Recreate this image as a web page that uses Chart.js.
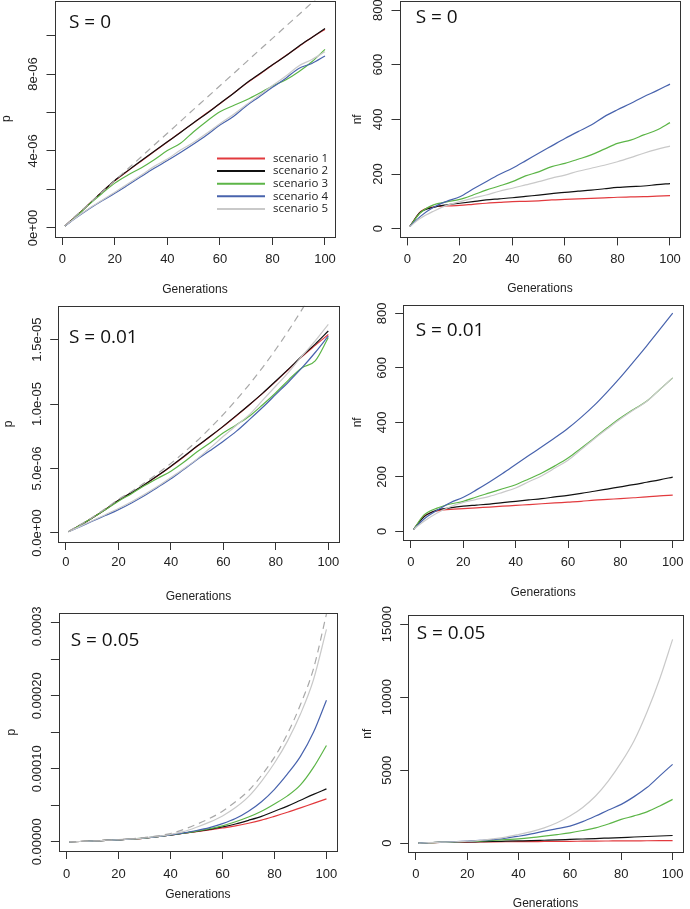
<!DOCTYPE html>
<html>
<head>
<meta charset="utf-8">
<title>Generations</title>
<script src="https://cdn.jsdelivr.net/npm/chart.js@4.4.1/dist/chart.umd.min.js"></script>
<style>
  body { margin: 0; background: #fff; }
  #wrap { position: relative; width: 690px; height: 909px; overflow: hidden; }
  #wrap canvas { position: absolute; }
</style>
</head>
<body>
<div id="wrap">
  <canvas id="c1" width="345" height="303" style="left:0px;top:0px"></canvas>
  <canvas id="c2" width="345" height="303" style="left:345px;top:0px"></canvas>
  <canvas id="c3" width="345" height="303" style="left:0px;top:303px"></canvas>
  <canvas id="c4" width="345" height="303" style="left:345px;top:303px"></canvas>
  <canvas id="c5" width="345" height="303" style="left:0px;top:606px"></canvas>
  <canvas id="c6" width="345" height="303" style="left:345px;top:606px"></canvas>
</div>
<script>
const gen = [1, 5, 10, 15, 20, 25, 30, 35, 40, 45, 50, 55, 60, 65, 70, 75, 80, 85, 90, 95, 100];
const xTicks = [0, 20, 40, 60, 80, 100];
const scenarioNames = ['scenario 1', 'scenario 2', 'scenario 3', 'scenario 4', 'scenario 5'];

// S = 0, p (in units of 1e-6)
const p0_s1 = [0.10, 0.58, 1.22, 1.85, 2.45, 2.97, 3.47, 3.97, 4.47, 4.97, 5.46, 5.97, 6.46, 6.98, 7.50, 7.98, 8.47, 8.95, 9.42, 9.90, 10.32];
const p0_s2 = [0.10, 0.57, 1.21, 1.86, 2.47, 2.98, 3.49, 3.99, 4.48, 4.96, 5.47, 5.95, 6.47, 6.97, 7.52, 8.00, 8.48, 8.93, 9.44, 9.90, 10.36];
const p0_s3 = [0.10, 0.56, 1.20, 1.78, 2.33, 2.75, 3.12, 3.55, 4.02, 4.40, 5.00, 5.55, 6.04, 6.35, 6.65, 7.00, 7.38, 7.69, 8.12, 8.64, 9.28];
const p0_s4 = [0.10, 0.50, 0.97, 1.40, 1.80, 2.23, 2.67, 3.10, 3.50, 3.92, 4.36, 4.83, 5.35, 5.78, 6.34, 6.82, 7.31, 7.77, 8.29, 8.55, 8.94];
const p0_s5 = [0.10, 0.52, 1.00, 1.43, 1.85, 2.30, 2.74, 3.20, 3.58, 4.05, 4.45, 4.92, 5.42, 5.88, 6.40, 6.90, 7.40, 7.88, 8.42, 8.75, 9.16];
const p0_exp = [0.12, 0.62, 1.23, 1.85, 2.46, 3.08, 3.69, 4.31, 4.92, 5.54, 6.16, 6.77, 7.39, 8.00, 8.62, 9.24, 9.85, 10.47, 11.08, 11.70, 12.32];

// S = 0, nf
const n0_s1 = [8, 62, 80, 83, 85, 89, 93, 96, 99, 100, 102, 105, 107, 109, 111, 113, 115, 116, 117, 119, 121];
const n0_s2 = [8, 60, 78, 87, 93, 99, 105, 109, 113, 118, 123, 128, 133, 137, 141, 146, 151, 154, 156, 161, 165];
const n0_s3 = [8, 58, 87, 98, 107, 123, 141, 156, 172, 193, 208, 227, 239, 254, 270, 291, 312, 324, 343, 361, 388];
const n0_s4 = [8, 45, 78, 100, 117, 145, 172, 198, 221, 248, 276, 303, 330, 355, 379, 410, 435, 458, 483, 505, 529];
const n0_s5 = [8, 38, 64, 85, 99, 112, 123, 137, 148, 160, 172, 185, 196, 210, 221, 232, 245, 260, 276, 290, 302];

// S = 0.01, p (1e-6)
const p1_s1 = [0.10, 0.55, 1.17, 1.82, 2.52, 3.12, 3.75, 4.44, 5.16, 5.92, 6.72, 7.48, 8.27, 9.10, 9.95, 10.83, 11.76, 12.72, 13.68, 14.55, 15.40];
const p1_s2 = [0.10, 0.55, 1.17, 1.83, 2.54, 3.13, 3.76, 4.45, 5.18, 5.95, 6.74, 7.50, 8.29, 9.12, 9.97, 10.85, 11.79, 12.75, 13.73, 14.65, 15.67];
const p1_s3 = [0.10, 0.55, 1.17, 1.80, 2.46, 3.05, 3.68, 4.25, 4.79, 5.50, 6.30, 7.00, 7.77, 8.40, 9.07, 9.95, 10.88, 11.90, 12.82, 13.35, 15.16];
const p1_s4 = [0.10, 0.45, 0.91, 1.35, 1.81, 2.33, 2.90, 3.55, 4.20, 4.95, 5.70, 6.40, 7.12, 7.90, 8.81, 9.75, 10.75, 11.75, 12.82, 14.00, 15.28];
const p1_s5 = [0.10, 0.47, 0.95, 1.42, 1.90, 2.42, 3.00, 3.62, 4.30, 5.00, 5.75, 6.60, 7.50, 8.35, 9.20, 10.30, 11.40, 12.50, 13.73, 14.90, 16.19];
const p1_exp = [0.12, 0.60, 1.20, 1.88, 2.60, 3.22, 3.89, 4.62, 5.40, 6.25, 7.15, 8.15, 9.20, 10.35, 11.55, 12.85, 14.25, 15.75, 17.35, 19.05, 20.85];

// S = 0.01, nf
const n1_s1 = [7, 55, 75, 80, 83, 86, 89, 92, 95, 98, 101, 104, 107, 110, 114, 117, 120, 123, 126, 130, 133];
const n1_s2 = [7, 53, 78, 86, 92, 96, 100, 105, 110, 115, 120, 126, 132, 139, 147, 155, 163, 171, 180, 189, 199];
const n1_s3 = [7, 60, 85, 100, 110, 126, 141, 156, 171, 192, 214, 240, 269, 305, 342, 380, 416, 447, 477, 520, 563];
const n1_s4 = [7, 45, 77, 105, 125, 152, 181, 212, 245, 278, 310, 343, 378, 418, 462, 512, 565, 622, 680, 740, 801];
const n1_s5 = [7, 37, 67, 90, 106, 117, 128, 143, 159, 182, 204, 232, 261, 300, 339, 376, 412, 445, 476, 520, 563];

// S = 0.05, p (1e-6)
const p5_s1 = [0.1, 0.5, 1.2, 2.0, 2.8, 3.9, 5.2, 7.0, 9.3, 11.8, 14.0, 16.4, 19.0, 21.8, 25.5, 29.8, 35.0, 40.5, 46.5, 52.8, 58.9];
const p5_s2 = [0.1, 0.5, 1.2, 2.0, 2.8, 3.9, 5.2, 7.0, 9.3, 11.8, 14.3, 17.2, 20.5, 24.5, 29.5, 35.0, 42.0, 49.0, 57.0, 65.0, 72.6];
const p5_s3 = [0.1, 0.5, 1.2, 2.0, 2.8, 3.9, 5.2, 7.1, 9.4, 12.0, 14.7, 18.0, 22.0, 27.5, 34.0, 42.0, 52.0, 63.0, 78.0, 102, 132];
const p5_s4 = [0.1, 0.5, 1.2, 2.0, 2.8, 3.9, 5.3, 7.2, 9.6, 12.4, 15.6, 19.6, 25.0, 32.0, 42.0, 55.0, 72.0, 93.0, 117, 150, 194];
const p5_s5 = [0.1, 0.5, 1.2, 2.0, 2.9, 4.0, 5.4, 7.5, 10.2, 14.0, 20.0, 27.0, 35.5, 47.0, 62.0, 83.0, 108, 138, 175, 222, 291];
const p5_exp = [0.1, 0.5, 1.2, 2.0, 3.0, 4.3, 6.0, 8.2, 11.5, 17.0, 24.0, 32.0, 42.0, 55.0, 70.0, 91.0, 116, 148, 188, 237, 312];

// S = 0.05, nf
const n5_s1 = [5, 40, 60, 70, 80, 88, 95, 100, 105, 110, 118, 124, 130, 138, 146, 153, 160, 165, 170, 175, 180];
const n5_s2 = [5, 42, 64, 78, 90, 105, 120, 140, 160, 180, 205, 230, 260, 290, 320, 355, 390, 425, 460, 495, 530];
const n5_s3 = [5, 45, 70, 95, 120, 150, 200, 250, 300, 380, 480, 590, 710, 870, 1055, 1320, 1630, 1870, 2150, 2550, 3000];
const n5_s4 = [5, 45, 75, 105, 140, 190, 250, 340, 480, 640, 826, 1000, 1170, 1480, 1860, 2270, 2660, 3190, 3810, 4610, 5400];
const n5_s5 = [5, 40, 70, 100, 140, 200, 300, 420, 600, 800, 1055, 1400, 1860, 2450, 3230, 4270, 5530, 7020, 8970, 11260, 13950];

// y axis ticks and their labels ('' = tick mark without label, as R drops them)
const p0Ticks = [0, 2, 4, 6, 8, 10];
const p0Labels = ['0e+00', '', '4e-06', '', '8e-06', ''];
const nTicks = [0, 200, 400, 600, 800];
const nLabels = ['0', '200', '400', '600', '800'];
const p1Ticks = [0, 5, 10, 15];
const p1Labels = ['0.0e+00', '5.0e-06', '1.0e-05', '1.5e-05'];
const p5Ticks = [0, 50, 100, 150, 200, 250, 300];
const p5Labels = ['0.00000', '', '0.00010', '', '0.00020', '', '0.00030'];
const n5Ticks = [0, 5000, 10000, 15000];
const n5Labels = ['0', '5000', '10000', '15000'];

const lineColors = ['#e23a3e', '#111111', '#5cb547', '#4863ad', '#c9c9c9'];
const dashColor = '#a8a8a8';
const FONT = '"Liberation Sans", Arial, sans-serif';
const LABEL_FONT = '"Open Sans", sans-serif';

// box = [left, right, top, bottom] of the plot frame inside each 345x303 canvas
const panels = [
  {id: 'c1', series: [p0_s1, p0_s2, p0_s3, p0_s4, p0_s5], dashed: p0_exp, yMin: -0.47, yMax: 11.82,
   yTicks: p0Ticks, yLabels: p0Labels, yTitle: 'p', yTitleX: 7, box: [54.5, 335.4, 0.5, 237],
   xPad: 6.5, xTitlePad: 5.8, title: 'S = 0', titleX: 69, titleY: 28, legend: true},
  {id: 'c2', series: [n0_s1, n0_s2, n0_s3, n0_s4, n0_s5], yMin: -32, yMax: 832,
   yTicks: nTicks, yLabels: nLabels, yTitle: 'nf', yTitleX: 13, box: [54.5, 335.4, 1.3, 237.4],
   xPad: 6.5, xTitlePad: 7.5, title: 'S = 0', titleX: 70.7, titleY: 23},
  {id: 'c3', series: [p1_s1, p1_s2, p1_s3, p1_s4, p1_s5], dashed: p1_exp, yMin: -0.70, yMax: 17.63,
   yTicks: p1Ticks, yLabels: p1Labels, yTitle: 'p', yTitleX: 9, box: [58.2, 338.7, 2.7, 239],
   xPad: 4.5, xTitlePad: 2.5, title: 'S = 0.01', titleX: 69, titleY: 40},
  {id: 'c4', series: [n1_s1, n1_s2, n1_s3, n1_s4, n1_s5], yMin: -32, yMax: 832,
   yTicks: nTicks, yLabels: nLabels, yTitle: 'nf', yTitleX: 13, box: [58.2, 338.7, 1.6, 237],
   xPad: 6.2, xTitlePad: 5.8, title: 'S = 0.01', titleX: 70.7, titleY: 32.7},
  {id: 'c5', series: [p5_s1, p5_s2, p5_s3, p5_s4, p5_s5], dashed: p5_exp, yMin: -12.5, yMax: 313,
   yTicks: p5Ticks, yLabels: p5Labels, yTitle: 'p', yTitleX: 12, box: [58.9, 339.7, 7.3, 245],
   xPad: 7.5, xTitlePad: 7.5, title: 'S = 0.05', titleX: 70.7, titleY: 40},
  {id: 'c6', series: [n5_s1, n5_s2, n5_s3, n5_s4, n5_s5], yMin: -600, yMax: 15600,
   yTicks: n5Ticks, yLabels: n5Labels, yTitle: 'nf', yTitleX: 23, box: [63.2, 343.7, 9.3, 246],
   xPad: 6.5, xTitlePad: -2, title: 'S = 0.05', titleX: 71.7, titleY: 33}
];

// frame, rotated y labels, panel label and legend (R style)
function rStyle(p) {
  return {
    id: 'rStyle',
    afterDraw: function (chart) {
      var ctx = chart.ctx, a = chart.chartArea, ys = chart.scales.y;
      ctx.save();
      ctx.strokeStyle = '#333';
      ctx.lineWidth = 1;
      ctx.strokeRect(Math.round(a.left) + 0.5, Math.round(a.top) + 0.5,
        Math.round(a.right) - Math.round(a.left), Math.round(a.bottom) - Math.round(a.top));

      ctx.fillStyle = '#222';
      ctx.font = '13px ' + FONT;
      ctx.textAlign = 'center';
      ctx.textBaseline = 'middle';
      p.yTicks.forEach(function (v, i) {
        if (!p.yLabels[i]) return;
        ctx.save();
        ctx.translate(a.left - 21, ys.getPixelForValue(v));
        ctx.rotate(-Math.PI / 2);
        ctx.fillText(p.yLabels[i], 0, 0);
        ctx.restore();
      });

      ctx.font = '12px ' + FONT;
      ctx.save();
      ctx.translate(p.yTitleX, (a.top + a.bottom) / 2);
      ctx.rotate(-Math.PI / 2);
      ctx.fillText(p.yTitle, 0, 0);
      ctx.restore();

      ctx.fillStyle = '#111';
      ctx.font = '19px ' + LABEL_FONT;
      ctx.textAlign = 'left';
      ctx.textBaseline = 'alphabetic';
      ctx.fillText(p.title, p.titleX, p.titleY);

      if (p.legend) {
        ctx.font = '11.5px ' + LABEL_FONT;
        ctx.textBaseline = 'middle';
        scenarioNames.forEach(function (name, i) {
          var y = 158.5 + i * 12.6;
          ctx.strokeStyle = lineColors[i];
          ctx.lineWidth = 2;
          ctx.beginPath();
          ctx.moveTo(217, y);
          ctx.lineTo(265, y);
          ctx.stroke();
          ctx.fillStyle = '#222';
          ctx.fillText(name, 273, y);
        });
      }
      ctx.restore();
    }
  };
}

function makePanel(p) {
  var datasets = p.series.map(function (vals, i) {
    return {
      label: scenarioNames[i],
      data: gen.map(function (g, j) { return {x: g, y: vals[j]}; }),
      borderColor: lineColors[i],
      borderWidth: 1.2,
      pointRadius: 0,
      fill: false,
      cubicInterpolationMode: 'monotone',
      order: 10 - i
    };
  });
  if (p.dashed) {
    datasets.push({
      label: 'expected',
      data: gen.map(function (g, j) { return {x: g, y: p.dashed[j]}; }),
      borderColor: dashColor,
      borderDash: [7, 5],
      borderWidth: 1.2,
      pointRadius: 0,
      fill: false,
      cubicInterpolationMode: 'monotone',
      order: 0
    });
  }

  new Chart(document.getElementById(p.id), {
    type: 'line',
    data: {datasets: datasets},
    options: {
      responsive: false,
      animation: false,
      devicePixelRatio: 1,
      layout: {padding: {left: 0, top: p.box[2], right: 345 - p.box[1], bottom: 0}},
      plugins: {legend: {display: false}, tooltip: {enabled: false}},
      scales: {
        x: {
          type: 'linear', min: -2.96, max: 103.96,
          afterBuildTicks: function (s) { s.ticks = xTicks.map(function (v) { return {value: v}; }); },
          afterFit: function (s) { s.height = 303 - p.box[3]; },
          ticks: {font: {family: FONT, size: 13}, color: '#222', padding: p.xPad, maxRotation: 0, autoSkip: false},
          grid: {drawOnChartArea: false, tickLength: 8, tickColor: '#333'},
          border: {display: false},
          title: {display: true, text: 'Generations', color: '#222',
                  font: {family: FONT, size: 12}, padding: {top: 0, bottom: p.xTitlePad}}
        },
        y: {
          type: 'linear', min: p.yMin, max: p.yMax,
          afterBuildTicks: function (s) { s.ticks = p.yTicks.map(function (v) { return {value: v}; }); },
          afterFit: function (s) { s.width = p.box[0]; },
          ticks: {display: false},
          grid: {drawOnChartArea: false, tickLength: 8, tickColor: '#333'},
          border: {display: false}
        }
      }
    },
    plugins: [rStyle(p)]
  });
}

panels.forEach(makePanel);
</script>
</body>
</html>
